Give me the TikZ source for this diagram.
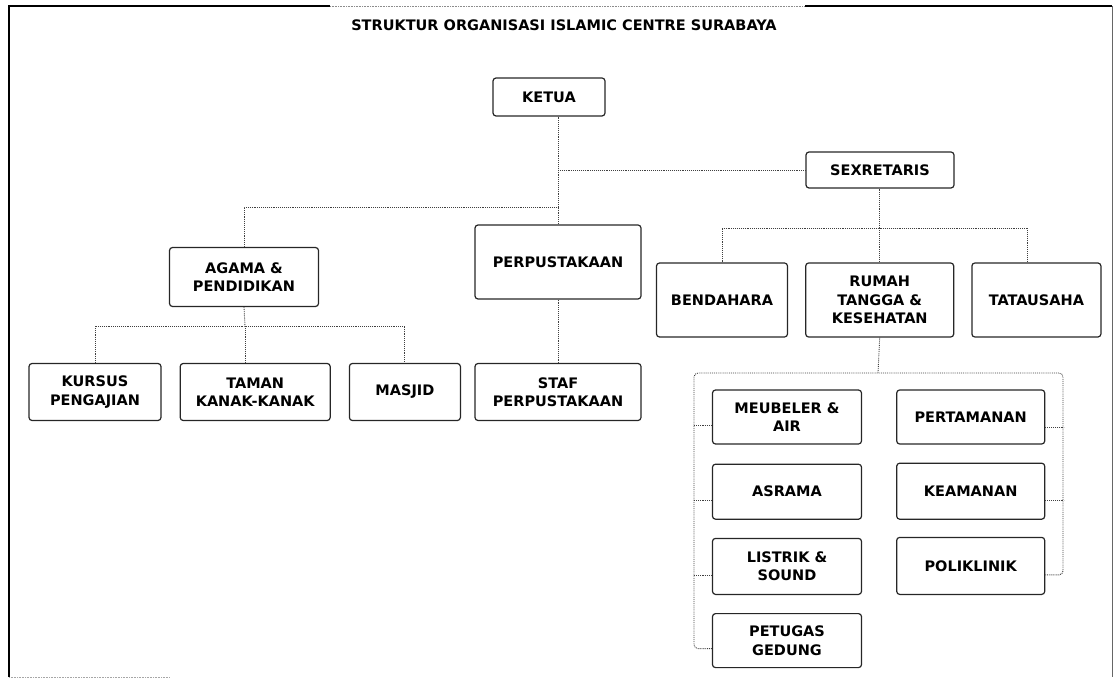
\documentclass[tikz,border=0pt]{standalone}
\usepackage{fontspec}
\setmainfont{DejaVu Sans}
\usepackage{tikz}
\usetikzlibrary{positioning}

\tikzset{
  unit/.style={draw=black!85, line width=1.2pt, rounded corners=3pt, align=center, inner sep=2pt, font=\bfseries\fontsize{14.5}{18.5}\selectfont},
  link/.style={black!75, line width=0.9pt, densely dotted},
}

\begin{document}
\begin{tikzpicture}[x=1pt,y=-1pt]
\useasboundingbox (0,0) rectangle (1117,679);
% frame
\draw[line width=2.5pt] (9,677) -- (9,6) -- (330,6);
\draw[black!45, line width=0.6pt, densely dotted] (330,6) -- (805,6);
\draw[line width=1.8pt] (805,6) -- (1112,6);
\draw[black!60, line width=1pt] (1112,6) -- (1112,677);
\draw[black!35, line width=0.6pt, densely dotted] (9,677) -- (170,677);

\node[font=\bfseries\fontsize{14.5}{17}\selectfont] (title) at (564,25) {STRUKTUR ORGANISASI ISLAMIC CENTRE SURABAYA};

\node[unit, minimum width=112pt, minimum height=38pt] (ketua) at (549,97) {KETUA};
\node[unit, minimum width=148pt, minimum height=36pt] (sekretaris) at (880,170) {SEXRETARIS};
\node[unit, minimum width=149pt, minimum height=59pt] (agama) at (244,277) {AGAMA \&\\PENDIDIKAN};
\node[unit, minimum width=166pt, minimum height=74pt] (perpus) at (558,262) {PERPUSTAKAAN};
\node[unit, minimum width=131pt, minimum height=74pt] (bendahara) at (722,300) {BENDAHARA};
\node[unit, minimum width=148pt, minimum height=74pt, right=17pt of bendahara] (rumah) {RUMAH\\TANGGA \&\\KESEHATAN};
\node[unit, minimum width=129pt, minimum height=74pt, right=17pt of rumah] (tatausaha) {TATAUSAHA};

\node[unit, minimum width=132pt, minimum height=57pt] (kursus) at (95,392) {KURSUS\\PENGAJIAN};
\node[unit, minimum width=150pt, minimum height=57pt, right=18pt of kursus] (taman) {TAMAN\\KANAK-KANAK};
\node[unit, minimum width=111pt, minimum height=57pt, right=18pt of taman] (masjid) {MASJID};
\node[unit, minimum width=166pt, minimum height=57pt] (staf) at (558,392) {STAF\\PERPUSTAKAAN};

\node[unit, minimum width=149pt, minimum height=54pt] (meubeler) at (787,417) {MEUBELER \&\\AIR};
\node[unit, minimum width=149pt, minimum height=55pt, below=19pt of meubeler] (asrama) {ASRAMA};
\node[unit, minimum width=149pt, minimum height=56pt, below=18pt of asrama] (listrik) {LISTRIK \&\\SOUND};
\node[unit, minimum width=149pt, minimum height=54pt, below=18pt of listrik] (petugas) {PETUGAS\\GEDUNG};
\node[unit, minimum width=148pt, minimum height=54pt, right=34pt of meubeler] (pertamanan) {PERTAMANAN};
\node[unit, minimum width=148pt, minimum height=56pt, below=18pt of pertamanan] (keamanan) {KEAMANAN};
\node[unit, minimum width=148pt, minimum height=57pt, below=17pt of keamanan] (poliklinik) {POLIKLINIK};

\coordinate (kbus) at (558,207);
\coordinate (abus) at (245,326);
\coordinate (sbus) at (878,228);
\coordinate (rbus) at (878,373);
\coordinate (lbus) at (694,373);
\coordinate (rtbus) at (1063,373);

\draw[link] (ketua.south -| perpus.north) -- (perpus.north);
\draw[link] (perpus.north |- sekretaris.west) -- (sekretaris.west);
\draw[link] (agama.north) |- (kbus);
\draw[link] (perpus.south) -- (staf.north);
\draw[link] (agama.south) -- (abus);
\draw[link] (kursus.north) |- (abus) -| (masjid.north);
\draw[link] (abus) -- (abus |- taman.north);
\draw[link] (rumah.north |- sekretaris.south) -- (rumah.north);
\draw[link] (bendahara.north) |- (sbus) -| ([xshift=-9pt]tatausaha.north);
\draw[link] (rumah.south) -- (rbus);
\draw[link, rounded corners=4pt] ([yshift=-8pt]petugas.west) -| (lbus) -- (rtbus) |- ([yshift=-9pt]poliklinik.east);
\foreach \n/\s in {meubeler/-8pt, asrama/-9pt, listrik/-9pt}
  \draw[link] ([yshift=\s]\n.west) -- ++(-19,0);
\foreach \n/\s in {pertamanan/-10pt, keamanan/-9pt}
  \draw[link] ([yshift=\s]\n.east) -- ++(19,0);
\end{tikzpicture}
\end{document}
